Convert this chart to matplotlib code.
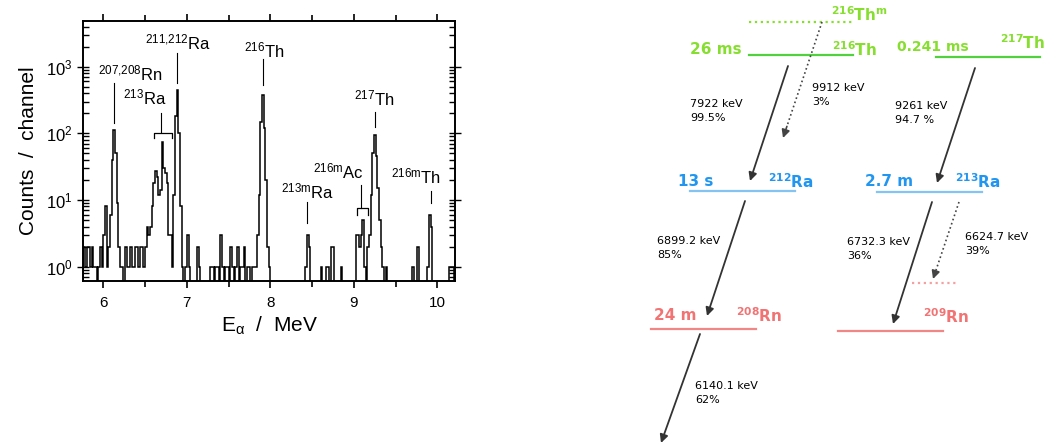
import numpy as np
import matplotlib
matplotlib.use("Agg")
import matplotlib.pyplot as plt
from matplotlib.ticker import MultipleLocator, LogLocator, NullFormatter

plt.rcParams['font.family'] = ['Liberation Sans', 'DejaVu Sans']
plt.rcParams['mathtext.default'] = 'regular'

# ---- alpha spectrum: non-empty channels (MeV, counts), channel width 0.02 MeV
chan_energy = [5.77, 5.79, 5.81, 5.83, 5.85, 5.87, 5.89, 5.91, 5.95, 5.97, 5.99,
               6.01, 6.03, 6.05, 6.07, 6.09, 6.11, 6.13, 6.15, 6.17, 6.19,
               6.21, 6.23, 6.27, 6.29, 6.31, 6.33, 6.35, 6.37, 6.39, 6.41, 6.43, 6.45, 6.47, 6.49,
               6.51, 6.53, 6.55, 6.57, 6.59, 6.61, 6.63, 6.65, 6.67, 6.69, 6.71, 6.73, 6.75, 6.77,
               6.79, 6.81, 6.83, 6.85, 6.87, 6.89, 6.91, 6.93, 6.95, 6.99, 7.01, 7.03, 7.13, 7.15,
               7.29, 7.31, 7.35, 7.37, 7.41, 7.43, 7.47, 7.49, 7.53, 7.55, 7.59, 7.61, 7.65, 7.67,
               7.69, 7.73, 7.75, 7.79, 7.81, 7.83, 7.85, 7.87, 7.89, 7.91, 7.93, 7.95, 7.97, 7.99,
               8.43, 8.45, 8.47, 8.61, 8.67, 8.69, 8.73, 8.75, 8.85,
               9.03, 9.05, 9.07, 9.09, 9.11, 9.13, 9.17, 9.19, 9.21, 9.23, 9.25, 9.27, 9.29, 9.31,
               9.33, 9.35, 9.39, 9.71, 9.77, 9.89, 9.91, 9.93, 10.15, 10.17, 10.19]
chan_counts = [2, 1, 2, 2, 1, 2, 1, 1, 1, 2, 1,
               3, 8, 1, 2, 6, 40, 112, 50, 9, 2,
               1, 1, 2, 1, 1, 2, 1, 1, 2, 2, 1, 2, 2, 1,
               2, 4, 3, 4, 8, 18, 27, 22, 12, 14, 75, 30, 25, 18,
               3, 3, 1, 12, 180, 450, 100, 8, 1, 1, 3, 1, 2, 1,
               1, 1, 1, 1, 3, 1, 1, 1, 2, 1, 1, 2, 1, 1,
               2, 1, 1, 1, 1, 1, 3, 12, 150, 380, 120, 20, 2, 1,
               1, 3, 2, 1, 1, 1, 2, 2, 1,
               3, 3, 2, 3, 5, 1, 2, 3, 12, 50, 94, 45, 15, 5,
               2, 1, 1, 1, 2, 1, 6, 4, 1, 1, 1]

# peak labels: text, text position (MeV, counts)
peak_labels = [r'$^{207{,}208}$Rn', r'$^{211{,}212}$Ra', r'$^{216}$Th', r'$^{213}$Ra',
               r'$^{217}$Th', r'$^{216m}$Ac', r'$^{213m}$Ra', r'$^{216m}$Th']
peak_label_E = [6.33, 6.90, 7.925, 6.49, 9.24, 8.81, 8.45, 9.74]
peak_label_y = [790, 2290, 1780, 345, 333, 27, 13.6, 22.5]
# marker lines: energy, top, bottom
marker_E = [6.13, 6.888, 7.906, 6.69, 9.257, 9.09, 8.44, 9.92]
marker_top = [565, 1590, 1300, 200, 209, 16.8, 9.3, 13.6]
marker_bot = [142, 565, 530, 104, 125, 7.6, 4.5, 9.0]
# brackets for groups of lines: left, right, level, leg end
bracket_lo = [6.61, 9.04]
bracket_hi = [6.82, 9.17]
bracket_y = [102, 7.5]
bracket_leg = [85, 6.0]

edges = np.round(np.arange(5.76, 10.2201, 0.02), 2)
counts = np.zeros(len(edges) - 1)
for e, c in zip(chan_energy, chan_counts):
    counts[int(round((e - 5.77) / 0.02))] = c
shown = np.where(counts > 0, counts, 0.1)

fig = plt.figure(figsize=(10.46, 4.45), dpi=100)
ax = fig.add_axes([83/1046, 164/445, 372/1046, 260/445])
ax.stairs(shown, edges, baseline=0.1, color='black', lw=1.1)
ax.set_yscale('log')
ax.set_xlim(5.757, 10.21)
ax.set_ylim(0.61, 4840)

for t, e, y in zip(peak_labels, peak_label_E, peak_label_y):
    ax.text(e, y, t, ha='center', va='center', fontsize=12)
for e, t, b in zip(marker_E, marker_top, marker_bot):
    ax.plot([e, e], [b, t], color='black', lw=0.8)
for lo, hi, y, leg in zip(bracket_lo, bracket_hi, bracket_y, bracket_leg):
    ax.plot([lo, lo, hi, hi], [leg, y, y, leg], color='black', lw=0.9)

ax.xaxis.set_major_locator(MultipleLocator(1))
ax.xaxis.set_minor_locator(MultipleLocator(0.5))
ax.yaxis.set_major_locator(LogLocator(base=10))
ax.yaxis.set_minor_locator(LogLocator(base=10, subs=np.arange(2, 10)))
ax.yaxis.set_minor_formatter(NullFormatter())
ax.tick_params(axis='x', which='both', direction='out', top=True, labelsize=11, pad=6)
ax.tick_params(axis='x', which='major', length=5, width=1.2)
ax.tick_params(axis='x', which='minor', length=4, width=1.2)
ax.tick_params(axis='y', which='both', direction='in', right=True, labelsize=12, width=1.0)
ax.tick_params(axis='y', which='major', length=8, direction='inout')
ax.tick_params(axis='y', which='minor', length=4)
for sp in ax.spines.values():
    sp.set_linewidth(1.4)
ax.set_ylabel('Counts  /  channel', fontsize=15, labelpad=6)
ax.set_xlabel(r'E$_\alpha$  /  MeV', fontsize=15, labelpad=3)

# ---- decay scheme (canvas pixels)
green_txt, green_line = '#86de2e', '#4fd23c'
blue_txt, blue_line = '#2196f0', '#84c4f2'
red_txt, red_line = '#f27373', '#f28585'

# levels: x0, x1, y, colour, linestyle
level_x0 = [749, 749, 936, 690, 877, 651, 912, 838]
level_x1 = [853, 853, 1040, 795, 982, 756, 959, 943]
level_y = [22, 55, 57, 191, 192, 329, 283, 331]
level_col = [green_txt, green_line, green_line, blue_line, blue_line, red_line, '#f4a0a0', red_line]
level_ls = [':', '-', '-', '-', '-', '-', ':', '-']

# labels: text, x, y, colour, size, alignment
level_text = ['26 ms', r'$^{216}$Th', r'$^{216}$Th$^m$', '0.241 ms', r'$^{217}$Th',
              '13 s', r'$^{212}$Ra', '2.7 m', r'$^{213}$Ra',
              '24 m', r'$^{208}$Rn', r'$^{209}$Rn']
level_text_x = [716, 854, 859, 933, 1045, 696, 791, 889, 978, 675, 759, 946]
level_text_y = [50, 50, 15, 47, 43, 182, 182, 182, 182, 316, 316, 317]
level_text_ha = ['center'] * 4 + ['right'] + ['center'] * 7
level_text_col = [green_txt] * 5 + [blue_txt] * 4 + [red_txt] * 3
level_text_size = [11, 11, 11, 10, 11, 11, 11, 11, 11, 11, 11, 11]

# decays: start, end, dotted, energy / branch
decay_start = [(788, 66), (822, 22), (975, 68), (745, 201), (700, 334), (932, 202), (959, 202)]
decay_end = [(750, 181), (783, 138), (937, 183), (707, 316), (661, 443), (893, 324), (933, 279)]
decay_dotted = [False, True, False, False, False, False, True]
decay_text = ['7922 keV\n99.5%', '9912 keV\n3%', '9261 keV\n94.7 %', '6899.2 keV\n85%',
              '6140.1 keV\n62%', '6732.3 keV\n36%', '6624.7 keV\n39%']
decay_text_x = [690, 812, 895, 657, 695, 847, 965]
decay_text_y = [111, 95, 113, 248, 393, 249, 244]

dx = fig.add_axes([640/1046, 0, 406/1046, 1])
dx.set_xlim(640, 1046)
dx.set_ylim(445, 0)
dx.axis('off')

for x0, x1, y, c, ls in zip(level_x0, level_x1, level_y, level_col, level_ls):
    dx.plot([x0, x1], [y, y], color=c, lw=1.6, ls=ls)
for t, x, y, c, s, ha in zip(level_text, level_text_x, level_text_y, level_text_col,
                             level_text_size, level_text_ha):
    dx.text(x, y, t, color=c, fontsize=s, fontweight='bold', ha=ha, va='center',
            family=['DejaVu Sans'])

for (x0, y0), (x1, y1), dot in zip(decay_start, decay_end, decay_dotted):
    if dot:
        f = 0.9
        dx.plot([x0, x0 + f * (x1 - x0)], [y0, y0 + f * (y1 - y0)], color='#444444', lw=1.2, ls=':')
        dx.annotate('', xy=(x1, y1), xytext=(x0 + f * (x1 - x0), y0 + f * (y1 - y0)),
                    arrowprops=dict(arrowstyle='-|>', color='#444444', lw=1.2, mutation_scale=12,
                                    shrinkA=0, shrinkB=0), annotation_clip=False)
    else:
        dx.annotate('', xy=(x1, y1), xytext=(x0, y0),
                    arrowprops=dict(arrowstyle='-|>', color='#333333', lw=1.3, mutation_scale=12,
                                    shrinkA=0, shrinkB=0), annotation_clip=False)
for t, x, y in zip(decay_text, decay_text_x, decay_text_y):
    dx.text(x, y, t, fontsize=8, ha='left', va='center', family=['DejaVu Sans'],
            linespacing=1.5)

fig.savefig('out.png', dpi=100)
